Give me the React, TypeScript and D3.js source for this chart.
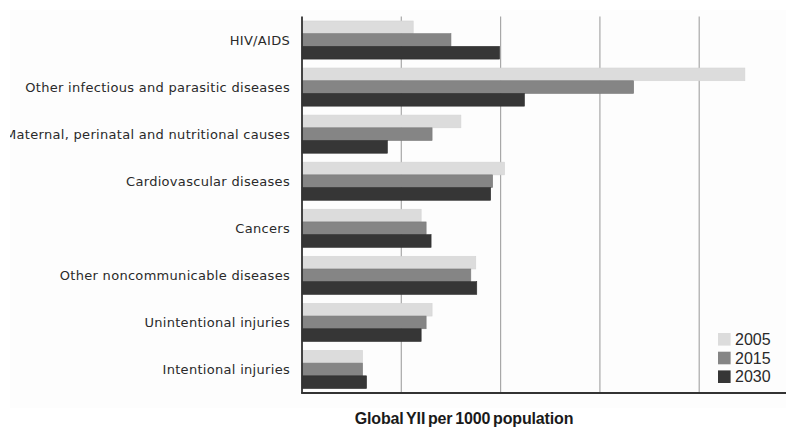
import React from "react";
import * as d3 from "d3";

const categories = [
  "HIV/AIDS",
  "Other infectious and parasitic diseases",
  "Maternal, perinatal and nutritional causes",
  "Cardiovascular diseases",
  "Cancers",
  "Other noncommunicable diseases",
  "Unintentional injuries",
  "Intentional injuries",
];
const seriesNames = ["2005", "2015", "2030"];
const values2005 = [11.2, 44.6, 16.0, 20.4, 12.0, 17.5, 13.1, 6.1];
const values2015 = [15.0, 33.4, 13.1, 19.2, 12.5, 17.0, 12.5, 6.1];
const values2030 = [19.9, 22.4, 8.6, 19.0, 13.0, 17.6, 12.0, 6.5];
const gridTicks = [10, 20, 30, 40];
const colors = ["#dcdcdc", "#858585", "#363636"];

export default function App() {
  const W = 786, H = 428;
  const x0 = 302, yTop = 16.5, yBot = 393;
  const x = d3.scaleLinear().domain([0, 10]).range([x0, x0 + 99.3]);
  const y = d3.scaleBand<string>().domain(categories).range([yTop, yBot]).paddingInner(0.19).paddingOuter(0.095);
  const ys = d3.scaleBand<string>().domain(seriesNames).range([0, y.bandwidth()]).padding(0);
  const data = [values2005, values2015, values2030];
  const font = "'Liberation Sans', Arial, sans-serif";
  const labelFont = "'DejaVu Sans', sans-serif";
  return (
    <svg width={W} height={H} style={{ position: "absolute", left: 0, top: 0, background: "#fff" }}>
      <defs>
        <clipPath id="panel">
          <rect x={10} y={10} width={776} height={398} />
        </clipPath>
      </defs>
      <rect x={10} y={10} width={776} height={398} fill="#fdfdfd" />
      {gridTicks.map((t) => (
        <line key={t} x1={x(t)} x2={x(t)} y1={yTop} y2={yBot} stroke="#a8a8a8" strokeWidth={1.2} />
      ))}
      {categories.map((c, i) => (
        <g key={c}>
          {seriesNames.map((s, j) => (
            <rect
              key={s}
              x={x(0)}
              y={(y(c) as number) + (ys(s) as number)}
              width={x(data[j][i]) - x(0)}
              height={ys.bandwidth()}
              fill={colors[j]}
              stroke={j === 0 ? "#d4d4d4" : j === 1 ? "#7a7a7a" : "#2e2e2e"}
              strokeWidth={0.6}
            />
          ))}
          <text
            clipPath="url(#panel)"
            x={290}
            y={(y(c) as number) + y.bandwidth() / 2 + 0.5}
            textAnchor="end"
            dominantBaseline="central"
            fontFamily={labelFont}
            fontSize={13}
            letterSpacing={0.3}
            fill="#2a2a2a"
          >
            {c}
          </text>
        </g>
      ))}
      <line x1={x0} x2={x0} y1={yTop} y2={yBot} stroke="#333" strokeWidth={1.8} />
      <line x1={x0 - 0.9} x2={W} y1={yBot} y2={yBot} stroke="#333" strokeWidth={1.8} />
      {seriesNames.map((s, j) => (
        <g key={s} transform={`translate(718, ${339.3 + j * 18.7})`}>
          <rect x={0} y={-6.3} width={12.6} height={12.6} fill={colors[j]} />
          <text x={17} y={0} dominantBaseline="central" fontFamily={font} fontSize={16} fill="#2a2a2a">
            {s}
          </text>
        </g>
      ))}
      <text
        x={464}
        y={418}
        textAnchor="middle"
        dominantBaseline="central"
        fontFamily={font}
        fontWeight="bold"
        fontSize={16}
        letterSpacing={-0.15}
        wordSpacing={-1.5}
        fill="#1a1a1a"
      >
        Global YII per 1000 population
      </text>
    </svg>
  );
}
